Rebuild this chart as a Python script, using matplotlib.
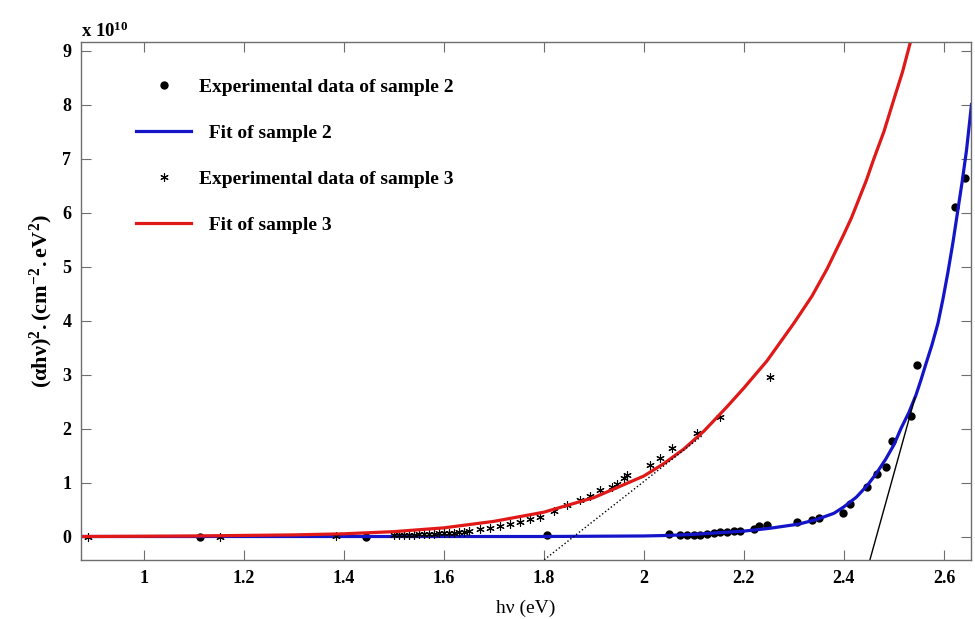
import numpy as np
import matplotlib
matplotlib.use("Agg")
import matplotlib.pyplot as plt

plt.rcParams['font.family'] = ['Liberation Serif', 'DejaVu Serif']
plt.rcParams['font.weight'] = 'bold'
plt.rcParams['mathtext.fontset'] = 'custom'
plt.rcParams['mathtext.rm'] = 'Liberation Serif:bold'
plt.rcParams['mathtext.it'] = 'Liberation Serif:bold'
plt.rcParams['mathtext.bf'] = 'Liberation Serif:bold'

# values in units of 1e10 (cm^-2 eV^2)
# sample 2: experimental points (dots)
s2_x = [1.113, 1.445, 1.806, 2.05, 2.073, 2.086, 2.10, 2.113, 2.126, 2.14, 2.153, 2.166,
        2.18, 2.193, 2.22, 2.23, 2.246, 2.306, 2.336, 2.35, 2.399, 2.413, 2.447, 2.467,
        2.484, 2.496, 2.534, 2.547, 2.622, 2.642]
s2_y = [0.0, 0.0, 0.03, 0.05, 0.03, 0.02, 0.02, 0.03, 0.04, 0.06, 0.08, 0.09,
        0.10, 0.11, 0.14, 0.19, 0.21, 0.27, 0.30, 0.34, 0.44, 0.60, 0.91, 1.16,
        1.29, 1.77, 2.24, 3.17, 6.11, 6.63]

# sample 2: fit curve
fit2_x = [0.875, 1.2, 1.5, 1.8, 2.0, 2.05, 2.1, 2.15, 2.2, 2.25, 2.31, 2.347, 2.38, 2.40,
          2.425, 2.447, 2.465, 2.484, 2.50, 2.514, 2.53, 2.544, 2.554, 2.564, 2.576, 2.588,
          2.598, 2.608, 2.618, 2.627, 2.636, 2.645, 2.655]
fit2_y = [0.0, 0.0, 0.0, 0.0, 0.01, 0.02, 0.04, 0.07, 0.10, 0.15, 0.23, 0.32, 0.43, 0.55,
          0.73, 0.95, 1.17, 1.44, 1.70, 2.0, 2.3, 2.62, 2.9, 3.2, 3.55, 3.95,
          4.4, 4.9, 5.45, 6.0, 6.55, 7.15, 8.0]

# sample 3: experimental points (asterisks)
s3_x = [0.889, 1.153, 1.385, 1.50, 1.51, 1.52, 1.53, 1.54, 1.55, 1.56, 1.57, 1.58, 1.59,
        1.60, 1.61, 1.62, 1.63, 1.64, 1.65, 1.673, 1.693, 1.713, 1.733, 1.753, 1.773,
        1.793, 1.82, 1.846, 1.873, 1.893, 1.913, 1.936, 1.946, 1.96, 1.966, 2.013,
        2.033, 2.056, 2.106, 2.153, 2.252]
s3_y = [0.0, 0.0, 0.01, 0.02, 0.02, 0.03, 0.03, 0.03, 0.04, 0.04, 0.05, 0.05, 0.06,
        0.06, 0.07, 0.07, 0.08, 0.09, 0.10, 0.13, 0.15, 0.19, 0.23, 0.27, 0.32,
        0.36, 0.47, 0.58, 0.68, 0.75, 0.86, 0.92, 0.98, 1.08, 1.14, 1.32,
        1.45, 1.63, 1.91, 2.22, 2.96]

# sample 3: fit curve
fit3_x = [0.875, 1.0, 1.1, 1.2, 1.3, 1.4, 1.5, 1.6, 1.7, 1.8, 1.9, 2.0, 2.04, 2.08, 2.12,
          2.166, 2.2, 2.246, 2.30, 2.336, 2.366, 2.40, 2.415, 2.43, 2.445, 2.46, 2.48,
          2.50, 2.517, 2.533]
fit3_y = [0.0, 0.005, 0.01, 0.02, 0.03, 0.05, 0.09, 0.16, 0.28, 0.45, 0.72, 1.12, 1.35,
          1.62, 1.95, 2.40, 2.75, 3.25, 3.95, 4.45, 4.95, 5.6, 5.9, 6.25, 6.6, 7.0, 7.5,
          8.1, 8.6, 9.16]

# tangent lines (band gap extrapolation)
tan3_x = [1.801, 2.117]
tan3_y = [-0.43, 1.87]
tan2_x = [2.452, 2.542]
tan2_y = [-0.43, 2.57]

x_ticks = [1, 1.2, 1.4, 1.6, 1.8, 2, 2.2, 2.4, 2.6]
x_labels = ['1', '1.2', '1.4', '1.6', '1.8', '2', '2.2', '2.4', '2.6']
y_ticks = list(range(0, 10))

fig = plt.figure(figsize=(9.75, 6.19), dpi=100)
ax = fig.add_axes([81 / 975, 59 / 619, 890 / 975, 518.3 / 619])

ax.plot(s2_x, s2_y, 'o', color='black', ms=5, label='Experimental data of sample 2')
ax.plot(fit2_x, fit2_y, '-', color='#1414c8', lw=2.3, label='  Fit of sample 2')
ax.plot(s3_x, s3_y, linestyle='none', marker=(6, 2, 0), color='black', ms=6, mew=0.8,
        label='Experimental data of sample 3')
ax.plot(fit3_x, fit3_y, '-', color='#e01818', lw=2.3, label='  Fit of sample 3')
ax.plot(tan3_x, tan3_y, ':', color='black', lw=1.0)
ax.plot(tan2_x, tan2_y, '-', color='black', lw=1.0)

ax.set_xlim(0.875, 2.654)
ax.set_ylim(-0.435, 9.163)
ax.set_xticks(x_ticks)
ax.set_xticklabels(x_labels)
ax.set_yticks(y_ticks)

for s in ax.spines.values():
    s.set_color('#6e6e6e')
    s.set_linewidth(1.0)
ax.tick_params(direction='in', length=7, width=0.8, color='#6e6e6e', labelsize=13,
               top=True, right=True, pad=7)

ax.set_xlabel('h\u03bd (eV)', fontsize=14, labelpad=9)
ax.set_ylabel(r'$(\alpha h\nu)^2.(cm^{-2}.eV^2)$', fontsize=16, labelpad=5)

fig.text(81 / 975, 1 - 31 / 619, r'x 10$^{10}$', fontsize=13.5, va='center', ha='left')

ax.legend(loc='upper left', bbox_to_anchor=(0.062, 0.929), frameon=False, fontsize=14,
          handlelength=2.83, handletextpad=0.41, labelspacing=1.46, borderpad=0,
          borderaxespad=0)

fig.savefig('out.png', dpi=100)
